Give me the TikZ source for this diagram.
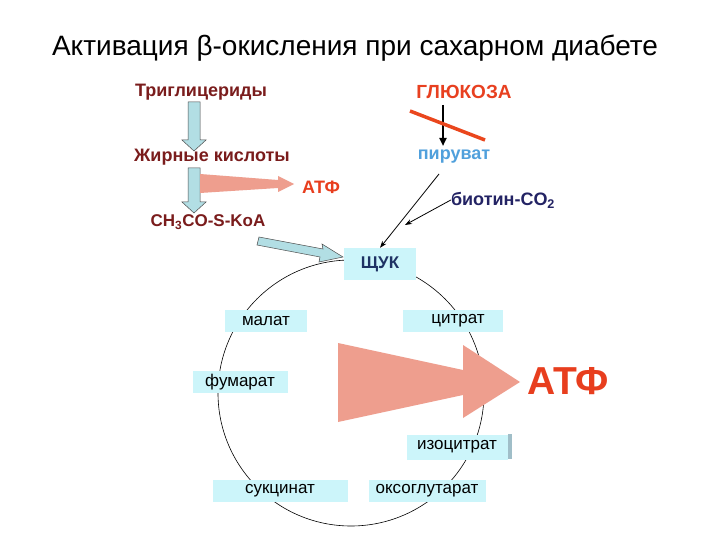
\documentclass[tikz,border=0pt]{standalone}
\usepackage{fontspec}
\setmainfont{Liberation Sans}
\usetikzlibrary{arrows.meta,calc}
\definecolor{dred}{RGB}{122,28,28}
\definecolor{gluc}{RGB}{232,64,32}
\definecolor{pyrc}{RGB}{80,160,220}
\definecolor{atfc}{RGB}{232,62,30}
\definecolor{bioc}{RGB}{35,35,100}
\definecolor{oaac}{RGB}{30,50,100}
\definecolor{bluearr}{RGB}{178,222,228}
\definecolor{boxfill}{RGB}{204,245,250}
\definecolor{pinkarr}{RGB}{238,158,142}
\definecolor{barc}{RGB}{160,190,200}
\tikzset{
  lbl/.style={font=\bfseries\fontsize{18}{21}\selectfont, inner sep=0pt},
  cbox/.style={fill=boxfill, inner sep=0pt, font=\fontsize{17}{20}\selectfont},
  blockarr/.style={fill=bluearr, draw=black!70, line width=0.5pt, line join=miter},
  thinarr/.style={-{Stealth[length=7pt,width=5pt]}, line width=0.8pt, black},
}
\begin{document}
\begin{tikzpicture}[x=1pt,y=-1pt]
\useasboundingbox[fill=white] (0,0) rectangle (720,540);

% title
\node[font=\fontsize{28}{32}\selectfont, inner sep=0pt] (title) at (355,48) {Активация β-окисления при сахарном диабете};

% cycle circle
\draw[line width=0.6pt] (351,393) circle [radius=133];

% big pink arrow
\fill[pinkarr] (338,343) -- (463,370) -- (463,345) -- (520,382) -- (463,418) -- (463,395) -- (338,422) -- cycle;

% top labels
\node[lbl, text=dred] (trig) at (201,92) {Триглицериды};
\node[lbl, text=gluc, font=\bfseries\fontsize{19}{22}\selectfont] (glu) at (464,92) {ГЛЮКОЗА};
\node[lbl, text=dred] (fatty) at (212,157) {Жирные кислоты};
\node[lbl, text=pyrc] (pyr) at (454,157) {пируват};
\node[lbl, text=atfc] (atf1) at (321,187) {АТФ};
\node[lbl, text=bioc] (bio) at (503,200) {биотин-CO\textsubscript{2}};
\node[lbl, text=dred, font=\bfseries\fontsize{17}{20}\selectfont] (acoa) at (208,222) {CH\textsubscript{3}CO-S-KoA};

% blue block arrows (down)
\draw[blockarr] (188,102) -- (200,102) -- (200,140) -- (206,140) -- (194,151) -- (182,140) -- (188,140) -- cycle;
\draw[blockarr] (188,168) -- (200,168) -- (200,202) -- (206,202) -- (194,213) -- (182,202) -- (188,202) -- cycle;
% diagonal block arrow to OAA
\draw[blockarr] (259,237) -- (323,249) -- (322,244) -- (343,257) -- (319,262) -- (320,257) -- (257,245) -- cycle;

% small pink arrow
\fill[pinkarr] (200,174) -- (278,180) -- (278,176) -- (294,184) -- (278,192) -- (278,188) -- (200,193) -- cycle;

% glucose -> pyruvate
\coordinate (g1) at (443,105);
\coordinate (g2) at (443,146);
\draw[-{Triangle[length=8pt,width=7pt]}, line width=2pt] (g1) -- (g2);
\draw[line width=3.5pt, color=gluc!90!orange] (410,111) -- (485,140);

% cycle boxes
\node[cbox, minimum width=72, minimum height=32, text=oaac, font=\bfseries\fontsize{17}{20}\selectfont] (oaa) at (380,264) {ЩУК};
\node[cbox, minimum width=82, minimum height=22] (malat) at (266,321) {малат};
\node[cbox, minimum width=100, minimum height=22] (citrat) at (453,321) {\hspace{10pt}цитрат};
\node[cbox, minimum width=95, minimum height=22] (fum) at (240,382) {фумарат};
\node[cbox, minimum width=101, minimum height=25] (isocit) at (457,447) {изоцитрат};
\fill[barc] (isocit.north east) rectangle ++(4,25);
\node[cbox, minimum width=135, minimum height=22] (succ) at (280,491) {сукцинат};
\node[cbox, minimum width=117, minimum height=22] (oxo) at (427,491) {оксоглутарат};

% big ATP
\node[font=\bfseries\fontsize{39}{44}\selectfont, text=atfc, inner sep=0pt] (atf2) at (568,381) {АТФ};

% pyruvate -> OAA, biotin
\coordinate (p1) at (439,174);
\coordinate (b2) at (405,225);
\draw[thinarr] (p1) -- (oaa.north);
\draw[thinarr] (bio.west) -- (b2);
\end{tikzpicture}
\end{document}
